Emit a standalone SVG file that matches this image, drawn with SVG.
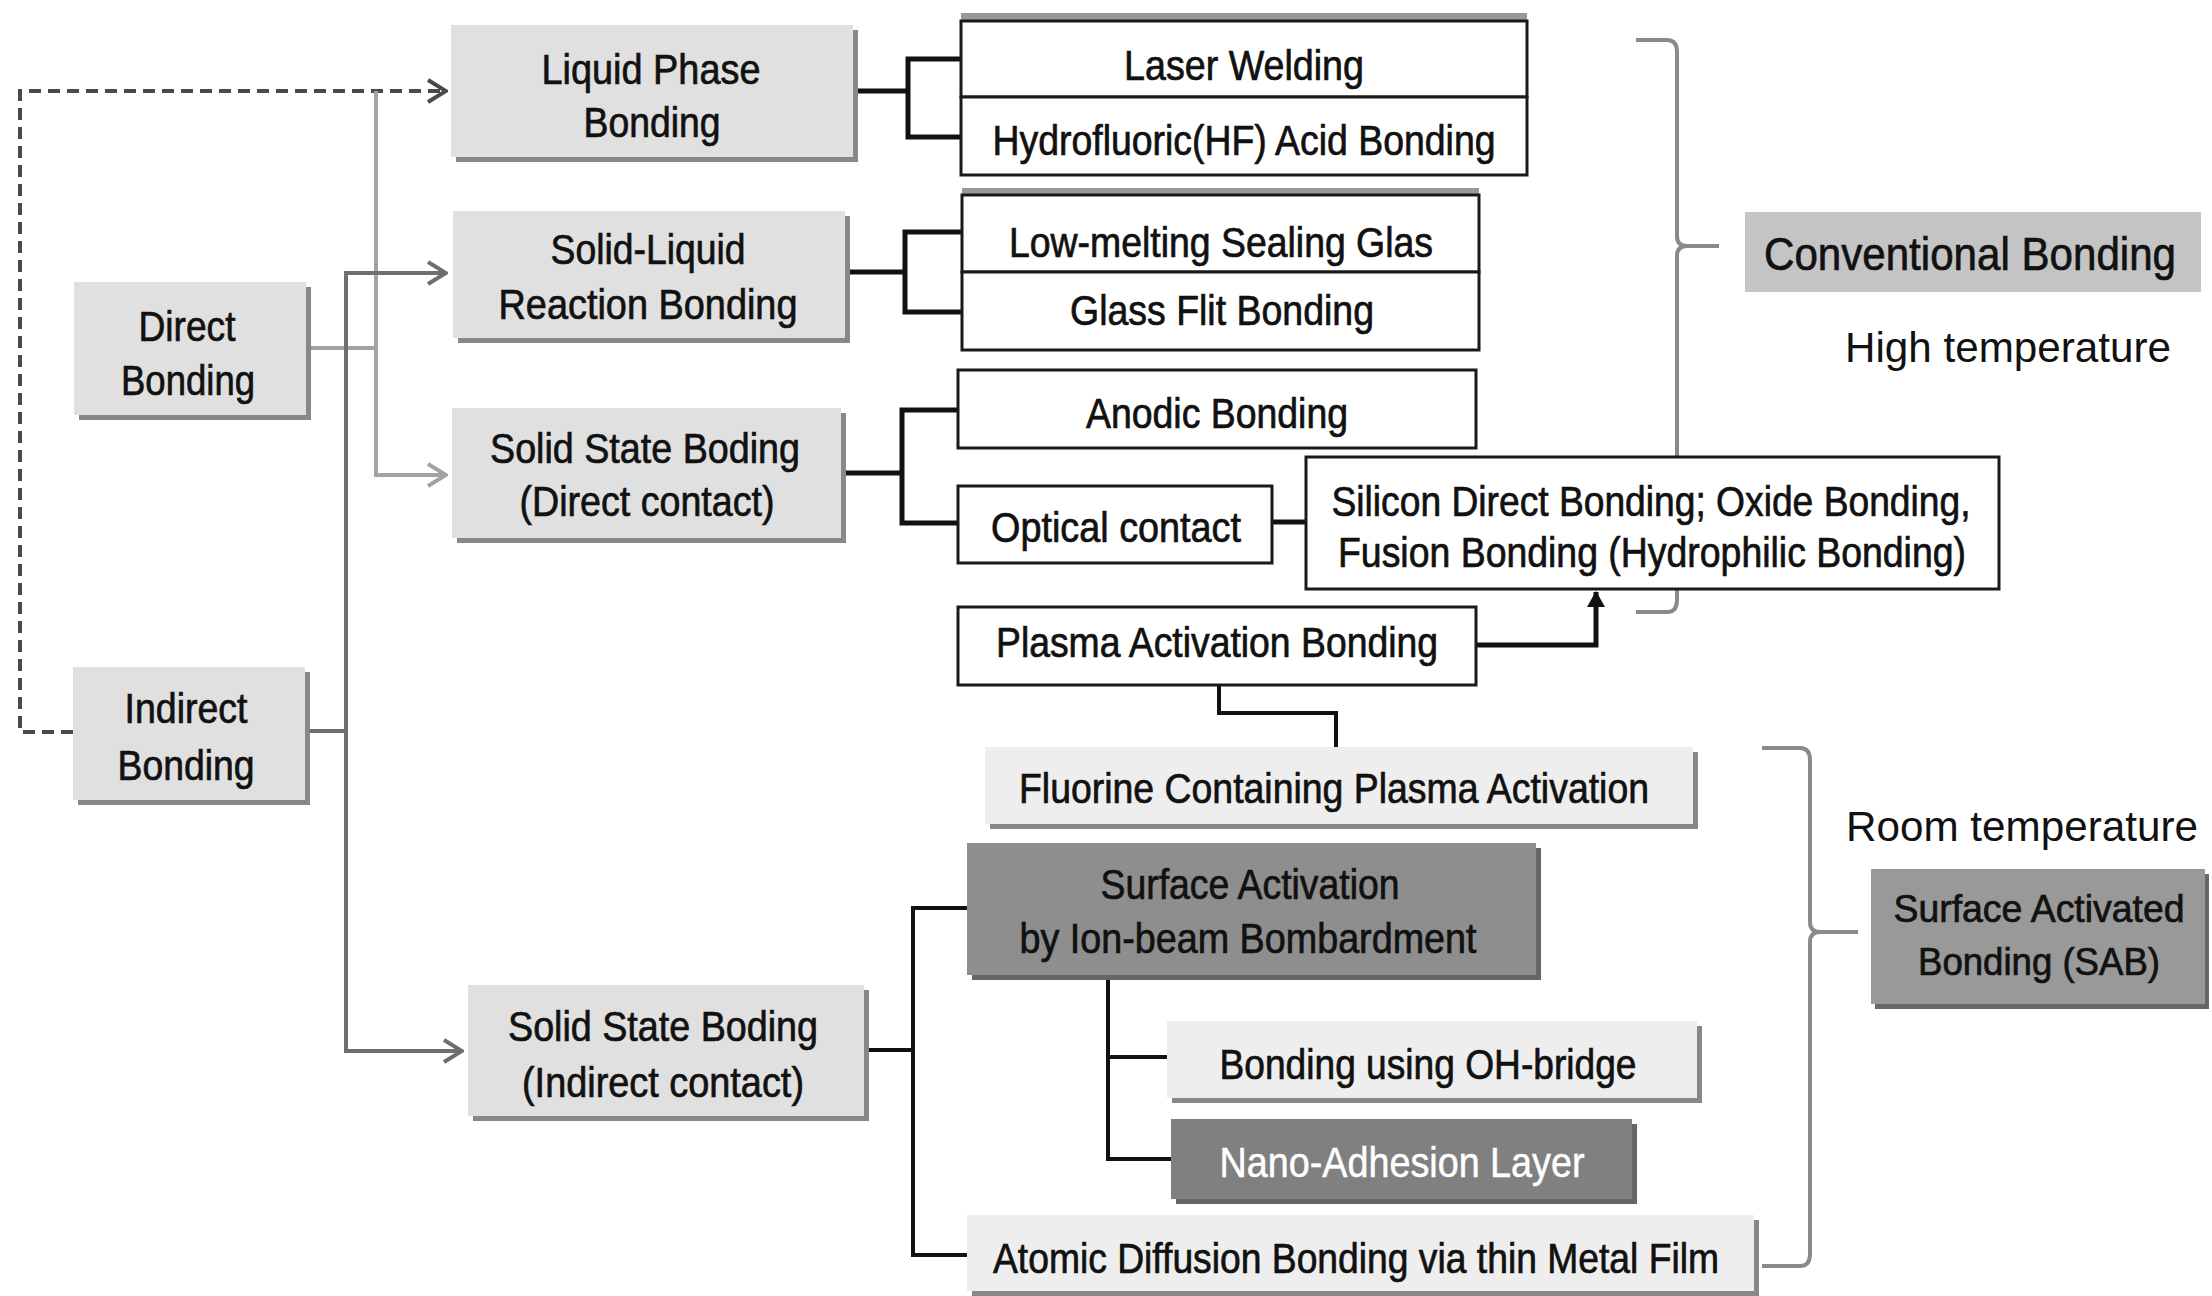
<svg xmlns="http://www.w3.org/2000/svg" width="2212" height="1296" viewBox="0 0 2212 1296">
<defs>
<style>
.t{font-family:"Liberation Sans",Arial,sans-serif;font-size:42px;text-anchor:middle;fill:#111;stroke:#111;stroke-width:0.7px;}
.big{font-size:46px;}
.sab{font-size:38px;}
.plain{font-family:"Liberation Sans",Arial,sans-serif;font-size:42px;text-anchor:middle;fill:#111;}
.g{fill:#e0e0e0;}
.lg{fill:#eeeeee;}
.dg{fill:#8e8e8e;}
.sh{fill:#888;}
.sh2{fill:#666;}
.wb{fill:#fff;stroke:#1a1a1a;stroke-width:3;}
.blk{fill:none;stroke:#111;stroke-width:5;}
.blk4{fill:none;stroke:#111;stroke-width:4;}
.lgl{fill:none;stroke:#a2a2a2;stroke-width:4;}
.dgl{fill:none;stroke:#6e6e6e;stroke-width:4;}
.dash{fill:none;stroke:#4a4a4a;stroke-width:4;stroke-dasharray:12 7;}
.brace{fill:none;stroke:#8a8a8a;stroke-width:4;}
</style>
<marker id="chL" viewBox="0 0 22 26" refX="20" refY="13" markerWidth="22" markerHeight="26" markerUnits="userSpaceOnUse" orient="auto"><path d="M2 2 L20 13 L2 24" fill="none" stroke="#a2a2a2" stroke-width="4"/></marker>
<marker id="chD" viewBox="0 0 22 26" refX="20" refY="13" markerWidth="22" markerHeight="26" markerUnits="userSpaceOnUse" orient="auto"><path d="M2 2 L20 13 L2 24" fill="none" stroke="#6e6e6e" stroke-width="4"/></marker>
<marker id="chK" viewBox="0 0 22 26" refX="20" refY="13" markerWidth="22" markerHeight="26" markerUnits="userSpaceOnUse" orient="auto"><path d="M2 2 L20 13 L2 24" fill="none" stroke="#4a4a4a" stroke-width="4"/></marker>
<marker id="triK" viewBox="0 0 16 18" refX="15" refY="9" markerWidth="16" markerHeight="18" markerUnits="userSpaceOnUse" orient="auto"><path d="M0 0 L16 9 L0 18 Z" fill="#111"/></marker>
</defs>
<rect width="2212" height="1296" fill="#fff"/>

<g id="connectors">
<path class="dash" d="M73 732 H20 V91 H446" marker-end="url(#chK)"/>
<path class="lgl" d="M310 348 H376"/>
<path class="lgl" d="M376 91 V475 H446" marker-end="url(#chL)"/>
<path class="dgl" d="M307 731 H346"/>
<path class="dgl" d="M446 273 H346 V1051 H462" marker-end="url(#chD)"/>
<path class="dgl" d="M346 273 H446" marker-end="url(#chD)"/>
<path class="blk" d="M855 91 H908 M961 59 H908 V137 H961"/>
<path class="blk" d="M848 272 H905 M962 232 H905 V312 H962"/>
<path class="blk" d="M842 473 H902 M958 410 H902 V523 H958"/>
<path class="blk" d="M1272 522 H1306"/>
<path class="blk" d="M1476 645 H1596 V592" marker-end="url(#triK)"/>
<path class="blk4" d="M1219 685 V713 H1336 V747"/>
<path class="blk4" d="M864 1050 H913 M967 908 H913 V1255 H967"/>
<path class="blk4" d="M1108 975 V1159 H1171 M1108 1057 H1167"/>
<path class="brace" d="M1636 40 H1667 Q1677 40 1677 52 V236 Q1677 246 1687 246 H1719 M1687 246 Q1677 246 1677 256 V600 Q1677 612 1667 612 H1636"/>
<path class="brace" d="M1762 748 H1800 Q1810 748 1810 760 V922 Q1810 932 1820 932 H1858 M1820 932 Q1810 932 1810 942 V1254 Q1810 1266 1800 1266 H1762"/>
</g>

<g id="liquid-phase">
<rect class="sh" x="456" y="30" width="402" height="132"/>
<rect class="g" x="451" y="25" width="402" height="132"/>
<text class="t" x="651" y="84" textLength="219" lengthAdjust="spacingAndGlyphs">Liquid Phase</text>
<text class="t" x="652" y="137" textLength="137" lengthAdjust="spacingAndGlyphs">Bonding</text>
</g>
<g id="solid-liquid">
<rect class="sh" x="458" y="216" width="392" height="127"/>
<rect class="g" x="453" y="211" width="392" height="127"/>
<text class="t" x="648" y="264" textLength="195" lengthAdjust="spacingAndGlyphs">Solid-Liquid</text>
<text class="t" x="648" y="319" textLength="299" lengthAdjust="spacingAndGlyphs">Reaction Bonding</text>
</g>
<g id="direct-bonding">
<rect class="sh" x="79" y="287" width="232" height="133"/>
<rect class="g" x="74" y="282" width="232" height="133"/>
<text class="t" x="187" y="341" textLength="97" lengthAdjust="spacingAndGlyphs">Direct</text>
<text class="t" x="188" y="395" textLength="134" lengthAdjust="spacingAndGlyphs">Bonding</text>
</g>
<g id="solid-state-direct">
<rect class="sh" x="457" y="413" width="389" height="130"/>
<rect class="g" x="452" y="408" width="389" height="130"/>
<text class="t" x="645" y="463" textLength="310" lengthAdjust="spacingAndGlyphs">Solid State Boding</text>
<text class="t" x="647" y="516" textLength="255" lengthAdjust="spacingAndGlyphs">(Direct contact)</text>
</g>
<g id="indirect-bonding">
<rect class="sh" x="78" y="672" width="232" height="133"/>
<rect class="g" x="73" y="667" width="232" height="133"/>
<text class="t" x="186" y="723" textLength="123" lengthAdjust="spacingAndGlyphs">Indirect</text>
<text class="t" x="186" y="780" textLength="137" lengthAdjust="spacingAndGlyphs">Bonding</text>
</g>
<g id="solid-state-indirect">
<rect class="sh" x="473" y="990" width="396" height="131"/>
<rect class="g" x="468" y="985" width="396" height="131"/>
<text class="t" x="663" y="1041" textLength="310" lengthAdjust="spacingAndGlyphs">Solid State Boding</text>
<text class="t" x="663" y="1097" textLength="282" lengthAdjust="spacingAndGlyphs">(Indirect contact)</text>
</g>

<g id="laser-welding">
<rect fill="#999" x="961" y="13" width="566" height="9"/>
<rect class="wb" x="961" y="21" width="566" height="76"/>
<text class="t" x="1244" y="80" textLength="240" lengthAdjust="spacingAndGlyphs">Laser Welding</text>
</g>
<g id="hf-bonding">
<rect class="wb" x="961" y="97" width="566" height="78"/>
<text class="t" x="1244" y="155" textLength="503" lengthAdjust="spacingAndGlyphs">Hydrofluoric(HF) Acid Bonding</text>
</g>
<g id="low-melting">
<rect fill="#999" x="962" y="188" width="517" height="8"/>
<rect class="wb" x="962" y="195" width="517" height="77"/>
<text class="t" x="1221" y="257" textLength="424" lengthAdjust="spacingAndGlyphs">Low-melting Sealing Glas</text>
</g>
<g id="glass-flit">
<rect class="wb" x="962" y="272" width="517" height="78"/>
<text class="t" x="1222" y="325" textLength="304" lengthAdjust="spacingAndGlyphs">Glass Flit Bonding</text>
</g>
<g id="anodic">
<rect class="wb" x="958" y="370" width="518" height="78"/>
<text class="t" x="1217" y="428" textLength="262" lengthAdjust="spacingAndGlyphs">Anodic Bonding</text>
</g>
<g id="optical">
<rect class="wb" x="958" y="486" width="314" height="77"/>
<text class="t" x="1116" y="542" textLength="250" lengthAdjust="spacingAndGlyphs">Optical contact</text>
</g>
<g id="silicon-direct">
<rect class="wb" x="1306" y="457" width="693" height="132"/>
<text class="t" x="1651" y="516" textLength="639" lengthAdjust="spacingAndGlyphs">Silicon Direct Bonding; Oxide Bonding,</text>
<text class="t" x="1652" y="567" textLength="628" lengthAdjust="spacingAndGlyphs">Fusion Bonding (Hydrophilic Bonding)</text>
</g>
<g id="plasma">
<rect class="wb" x="958" y="607" width="518" height="78"/>
<text class="t" x="1217" y="657" textLength="442" lengthAdjust="spacingAndGlyphs">Plasma Activation Bonding</text>
</g>

<g id="fluorine">
<rect class="sh" x="990" y="752" width="708" height="77"/>
<rect class="lg" x="985" y="747" width="708" height="77"/>
<text class="t" x="1334" y="803" textLength="630" lengthAdjust="spacingAndGlyphs">Fluorine Containing Plasma Activation</text>
</g>
<g id="surface-activation">
<rect class="sh2" x="972" y="848" width="569" height="132"/>
<rect class="dg" x="967" y="843" width="569" height="132"/>
<text class="t" x="1250" y="899" textLength="299" lengthAdjust="spacingAndGlyphs">Surface Activation</text>
<text class="t" x="1248" y="953" textLength="457" lengthAdjust="spacingAndGlyphs">by Ion-beam Bombardment</text>
</g>
<g id="oh-bridge">
<rect class="sh" x="1172" y="1026" width="530" height="77"/>
<rect class="lg" x="1167" y="1021" width="530" height="77"/>
<text class="t" x="1428" y="1079" textLength="417" lengthAdjust="spacingAndGlyphs">Bonding using OH-bridge</text>
</g>
<g id="nano-adhesion">
<rect class="sh2" x="1176" y="1124" width="461" height="80"/>
<rect fill="#808080" x="1171" y="1119" width="461" height="80"/>
<text class="t" x="1402" y="1177" style="fill:#fff;stroke:#fff;stroke-width:0.5px" textLength="365" lengthAdjust="spacingAndGlyphs">Nano-Adhesion Layer</text>
</g>
<g id="atomic-diffusion">
<rect class="sh" x="972" y="1220" width="787" height="76"/>
<rect class="lg" x="967" y="1215" width="787" height="76"/>
<text class="t" x="1356" y="1273" textLength="726" lengthAdjust="spacingAndGlyphs">Atomic Diffusion Bonding via thin Metal Film</text>
</g>

<g id="conventional-bonding">
<rect fill="#c4c4c4" x="1745" y="212" width="456" height="80"/>
<text class="t big" x="1970" y="270" textLength="412" lengthAdjust="spacingAndGlyphs">Conventional Bonding</text>
</g>
<g id="high-temperature">
<text class="plain" x="2008" y="362" textLength="326" lengthAdjust="spacingAndGlyphs">High temperature</text>
</g>
<g id="room-temperature">
<text class="plain" x="2022" y="841" textLength="352" lengthAdjust="spacingAndGlyphs">Room temperature</text>
</g>
<g id="sab">
<rect class="sh2" x="1875" y="874" width="334" height="135"/>
<rect fill="#999" x="1871" y="869" width="334" height="135"/>
<text class="t sab" x="2039" y="922" textLength="291" lengthAdjust="spacingAndGlyphs">Surface Activated</text>
<text class="t sab" x="2039" y="975" textLength="242" lengthAdjust="spacingAndGlyphs">Bonding (SAB)</text>
</g>
</svg>
